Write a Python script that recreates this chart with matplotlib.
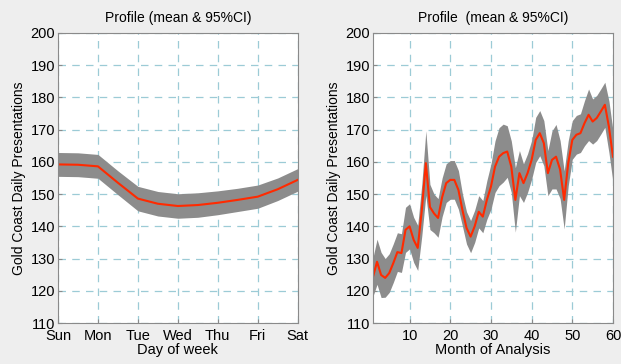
import numpy as np
import matplotlib
matplotlib.use('Agg')
import matplotlib.pyplot as plt

plt.rcParams['font.family'] = ['Liberation Sans', 'DejaVu Sans']

# weekly profile (half-day steps, Sun..Sat)
day_pos = [0, 0.5, 1.0, 1.5, 2.0, 2.5, 3.0, 3.5, 4.0, 4.5, 5.0, 5.5, 6.0]
day_mean = [159.2, 159.1, 158.6, 153.5, 148.6, 147.0, 146.3, 146.6, 147.3,
            148.2, 149.2, 151.5, 154.4]
day_half = [3.7, 3.7, 3.7, 3.7, 3.8, 3.8, 3.8, 3.8, 3.7, 3.6, 3.6, 3.5, 3.5]
day_labels = ['Sun', 'Mon', 'Tue', 'Wed', 'Thu', 'Fri', 'Sat']

# monthly profile
months = list(range(1, 61))
month_mean = [124.3, 129.0, 124.9, 124.0, 125.5, 128.6, 132.0, 131.7, 138.9, 140.0,
              135.8, 133.3, 145.0, 159.6, 146.0, 144.0, 142.6, 149.0, 153.4, 154.4,
              154.4, 151.3, 145.0, 139.5, 136.8, 140.0, 144.5, 143.0, 148.2, 152.3,
              158.5, 161.6, 162.7, 163.2, 158.5, 148.2, 156.5, 153.4, 156.5, 160.6,
              166.8, 168.9, 165.8, 156.5, 160.6, 161.6, 157.6, 148.2, 159.6, 166.8,
              168.4, 168.9, 172.0, 174.6, 172.5, 173.6, 175.6, 177.7, 170.9, 161.6]
month_half = [6, 7, 7, 6, 6, 6, 6, 6, 7, 7,
              7, 7, 8, 10, 7, 6, 6, 6, 6, 6,
              6, 6, 5, 5, 5, 5, 5, 5, 6, 7,
              8, 9, 9, 8, 8, 10, 7, 6, 6, 6,
              7, 7, 7, 7, 9, 10, 9, 9, 7, 6,
              6, 6, 7, 8, 7, 7, 7, 7, 8, 8]

BAND = '#8c8c8c'
RED = '#ff2a00'
GRID = '#9ccbd6'

fig = plt.figure(figsize=(6.21, 3.64), dpi=100, facecolor='#eeeeee')
ax1 = fig.add_axes([0.0934, 0.1126, 0.386, 0.797])
ax2 = fig.add_axes([0.6006, 0.1126, 0.3865, 0.797])


def style(ax):
    ax.set_facecolor('white')
    ax.set_ylim(110, 200)
    ax.set_yticks(range(110, 201, 10))
    ax.grid(True, color=GRID, linestyle=(0, (6, 5)), linewidth=0.9)
    ax.set_axisbelow(True)
    for s in ax.spines.values():
        s.set_color('#8a8a8a')
    ax.tick_params(direction='in', length=3, color='#8a8a8a', labelsize=10.5, pad=2)
    ax.tick_params(axis='x', pad=4)
    ax.set_ylabel('Gold Coast Daily Presentations', fontsize=10, labelpad=3)


dp = np.array(day_pos)
dm = np.array(day_mean)
dh = np.array(day_half)
ax1.fill_between(dp, dm - dh, dm + dh, color=BAND, linewidth=0)
ax1.plot(dp, dm, color=RED, linewidth=1.5)
ax1.set_xlim(0, 6)
ax1.set_xticks(range(7))
ax1.set_xticklabels(day_labels)
style(ax1)
ax1.set_xlabel('Day of week', fontsize=10.5, labelpad=0)
ax1.set_title('Profile (mean & 95%CI)', fontsize=10, pad=8)

mx = np.array(months)
mm = np.array(month_mean)
mh = np.array(month_half)
ax2.fill_between(mx, mm - mh, mm + mh, color=BAND, linewidth=0)
ax2.plot(mx, mm, color=RED, linewidth=1.5)
ax2.set_xlim(1, 60)
ax2.set_xticks(range(10, 61, 10))
style(ax2)
ax2.set_xlabel('Month of Analysis', fontsize=10.5, labelpad=0)
ax2.set_title('Profile  (mean & 95%CI)', fontsize=10, pad=8)

fig.savefig('out.png', dpi=100, facecolor=fig.get_facecolor())
